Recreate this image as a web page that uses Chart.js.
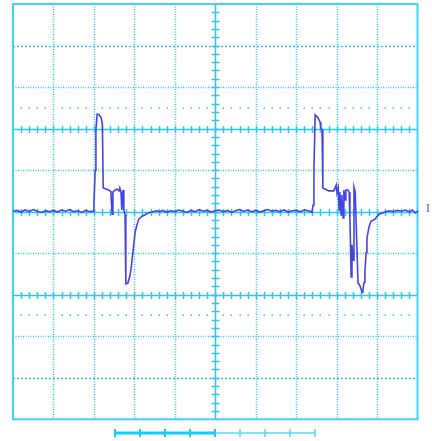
<!DOCTYPE html>
<html>
<head>
<meta charset="utf-8">
<script src="https://cdn.jsdelivr.net/npm/chart.js@4.4.1/dist/chart.umd.min.js"></script>
<style>
  html, body { margin: 0; padding: 0; background: #ffffff; }
  canvas { display: block; }
</style>
</head>
<body>
<canvas id="scope" width="432" height="441"></canvas>
<script>
// trace in divisions (x: 0..10, y: -5..5)
var traceT = [
  0.00, 0.10, 0.20, 0.30, 0.40, 0.50, 0.60, 0.70, 0.80, 0.90, 1.00, 1.10, 1.20, 1.30, 1.40, 1.50, 1.60, 1.70, 1.80, 1.90, 1.98,
  // first pulse
  2.00, 2.03, 2.05, 2.08, 2.13, 2.18, 2.21, 2.23, 2.32, 2.40, 2.42, 2.45, 2.47, 2.52, 2.57, 2.62, 2.64, 2.67, 2.69, 2.72, 2.74, 2.77, 2.79,
  2.84, 2.89, 2.92, 2.97, 3.02, 3.07, 3.11, 3.19, 3.26, 3.34, 3.44, 3.54, 3.63,
  3.70, 3.80, 3.90, 4.00, 4.10, 4.20, 4.30, 4.40, 4.50, 4.60, 4.70, 4.80, 4.90, 5.00, 5.10, 5.20, 5.30, 5.40, 5.50, 5.60,
  5.70, 5.80, 5.90, 6.00, 6.10, 6.20, 6.30, 6.40, 6.50, 6.60, 6.70, 6.80, 6.90, 7.00, 7.10, 7.20, 7.30, 7.39,
  // second pulse
  7.42, 7.44, 7.47, 7.54, 7.59, 7.61, 7.64, 7.66, 7.76, 7.81, 7.93, 7.99, 8.01, 8.04, 8.06, 8.08, 8.11, 8.13, 8.16, 8.18, 8.21, 8.23,
  8.28, 8.31, 8.33, 8.36, 8.38, 8.41, 8.43, 8.46, 8.53, 8.55, 8.58, 8.63, 8.65, 8.68, 8.70, 8.73, 8.75, 8.80, 8.85, 8.95, 9.05, 9.20,
  9.30, 9.40, 9.50, 9.60, 9.70, 9.80, 9.87, 9.95, 10.02, 10.07
];
var traceV = [
  0.01, 0.03, -0.01, 0.04, 0.00, 0.05, 0.01, -0.02, 0.02, 0.00, 0.03, -0.01, 0.04, 0.01, 0.05, 0.00, 0.02, -0.02, 0.03, 0.00, 0.01,
  0.16, 1.00, 1.97, 2.35, 2.33, 2.26, 2.10, 0.57, 0.54, 0.50, 0.47, -0.06, 0.47, 0.52, 0.54, 0.50, 0.57, 0.47, 0.04, 0.52, 0.04, -0.08, -1.74,
  -1.72, -1.55, -1.36, -0.93, -0.49, -0.30, -0.18, -0.11, -0.08, -0.03, -0.01, 0.02, 0.00,
  0.03, -0.01, 0.02, 0.00, 0.04, 0.01, -0.02, 0.03, 0.00, 0.05, 0.01, 0.03, -0.01, 0.02, 0.04, 0.00, 0.03, -0.02, 0.02, 0.05,
  0.01, 0.04, 0.00, 0.03, -0.01, 0.02, 0.05, 0.01, 0.03, 0.00, 0.04, -0.01, 0.02, 0.03, 0.00, 0.04, 0.02, -0.01,
  0.16, 1.00, 2.33, 2.26, 2.16, 2.01, 1.97, 0.57, 0.52, 0.50, 0.50, 0.64, 0.45, 0.57, 0.04, 0.47, -0.08, 0.40, -0.15, 0.52, 0.28, 0.52,
  0.52, 0.47, -0.20, -1.57, -0.80, -1.17, 0.59, 0.47, -1.72, -1.74, -1.79, -1.94, -1.89, -1.70, -1.45, -0.99, -0.64, -0.37, -0.23, -0.18, -0.06, -0.01,
  0.02, 0.00, 0.03, 0.01, 0.04, -0.01, 0.04, -0.03, 0.02, 0.01
];

var gridColor = "#2cc6ee";

var scopeGrid = {
  id: "scopeGrid",
  beforeDatasetsDraw: function (chart) {
    var ctx = chart.ctx;
    var xs = chart.scales.x, ys = chart.scales.y;
    var left = xs.getPixelForValue(0), right = xs.getPixelForValue(10);
    var top = ys.getPixelForValue(5), bottom = ys.getPixelForValue(-5);
    var cx = xs.getPixelForValue(5), cy = ys.getPixelForValue(0);
    ctx.save();
    ctx.strokeStyle = gridColor;
    ctx.fillStyle = gridColor;

    // dotted division lines
    ctx.lineWidth = 1.5;
    ctx.setLineDash([1, 1.5]);
    for (var i = 1; i < 10; i++) {
      if (i === 5) continue;
      var px = Math.round(xs.getPixelForValue(i)) + 0.5;
      ctx.beginPath(); ctx.moveTo(px, top); ctx.lineTo(px, bottom); ctx.stroke();
    }
    [-3, -1, 1, 3].forEach(function (v) {
      var py = Math.round(ys.getPixelForValue(v)) + 0.5;
      ctx.beginPath(); ctx.moveTo(left, py); ctx.lineTo(right, py); ctx.stroke();
    });
    ctx.setLineDash([2, 2]);
    [-4, 4].forEach(function (v) {
      var py = Math.round(ys.getPixelForValue(v)) + 0.5;
      ctx.beginPath(); ctx.moveTo(left, py); ctx.lineTo(right, py); ctx.stroke();
    });
    ctx.setLineDash([]);

    // sparse dot rows at +-2.5
    [-2.5, 2.5].forEach(function (v) {
      var py = Math.round(ys.getPixelForValue(v));
      for (var k = 1; k < 50; k++) {
        if (k % 5 === 0) continue;
        var px = Math.round(xs.getPixelForValue(k * 0.2));
        ctx.fillRect(px - 0.5, py - 0.5, 1.5, 1.5);
      }
    });

    // solid lines: centre and +-2
    ctx.lineWidth = 1.5;
    [-2, 0, 2].forEach(function (v) {
      var py = Math.round(ys.getPixelForValue(v)) + 0.5;
      ctx.beginPath(); ctx.moveTo(left, py); ctx.lineTo(right, py); ctx.stroke();
      for (var k = 1; k < 50; k++) {
        var px = Math.round(xs.getPixelForValue(k * 0.2)) + 0.5;
        ctx.beginPath(); ctx.moveTo(px, py - 3.5); ctx.lineTo(px, py + 3.5); ctx.stroke();
      }
    });
    var vx = Math.round(cx) + 0.5;
    ctx.beginPath(); ctx.moveTo(vx, top); ctx.lineTo(vx, bottom); ctx.stroke();
    for (var k = 1; k < 50; k++) {
      var py = Math.round(ys.getPixelForValue(-5 + k * 0.2)) + 0.5;
      ctx.beginPath(); ctx.moveTo(vx - 4, py); ctx.lineTo(vx + 4, py); ctx.stroke();
    }

    // frame
    ctx.lineWidth = 2;
    ctx.strokeStyle = "#40d2f6";
    ctx.strokeRect(left, top, right - left, bottom - top);
    ctx.restore();
  },
  afterDraw: function (chart) {
    var ctx = chart.ctx;
    var xs = chart.scales.x, ys = chart.scales.y;
    var cx = Math.round(xs.getPixelForValue(5));
    var by = 433;
    ctx.save();
    // trigger position bar
    ctx.strokeStyle = "#14cdf2";
    ctx.lineWidth = 3;
    ctx.beginPath(); ctx.moveTo(cx - 100, by); ctx.lineTo(cx, by); ctx.stroke();
    ctx.strokeStyle = "#5cd6f4";
    ctx.lineWidth = 1.5;
    ctx.beginPath(); ctx.moveTo(cx, by); ctx.lineTo(cx + 100, by); ctx.stroke();
    for (var k = -4; k <= 4; k++) {
      ctx.strokeStyle = k <= 0 ? "#14cdf2" : "#5cd6f4";
      ctx.lineWidth = k <= 0 ? 2 : 1.5;
      var px = cx + k * 25;
      ctx.beginPath(); ctx.moveTo(px, by - 4); ctx.lineTo(px, by + 4); ctx.stroke();
    }
    // channel marker
    ctx.fillStyle = "#5656cc";
    ctx.font = "12px 'Liberation Serif'";
    ctx.textBaseline = "middle";
    ctx.fillText("I", 426, ys.getPixelForValue(0) - 3);
    ctx.restore();
  }
};

var points = traceT.map(function (t, i) { return { x: t, y: traceV[i] }; });

new Chart(document.getElementById("scope").getContext("2d"), {
  type: "scatter",
  data: {
    datasets: [{
      data: points,
      showLine: true,
      borderColor: "#4444e4",
      borderWidth: 1.6,
      pointRadius: 0,
      tension: 0,
      clip: false
    }]
  },
  options: {
    responsive: false,
    animation: false,
    layout: { padding: { left: 13, top: 4, right: 14.5, bottom: 21.7 } },
    plugins: { legend: { display: false }, tooltip: { enabled: false } },
    scales: {
      x: { type: "linear", min: 0, max: 10, display: false },
      y: { type: "linear", min: -5, max: 5, display: false }
    }
  },
  plugins: [scopeGrid]
});
</script>
</body>
</html>
